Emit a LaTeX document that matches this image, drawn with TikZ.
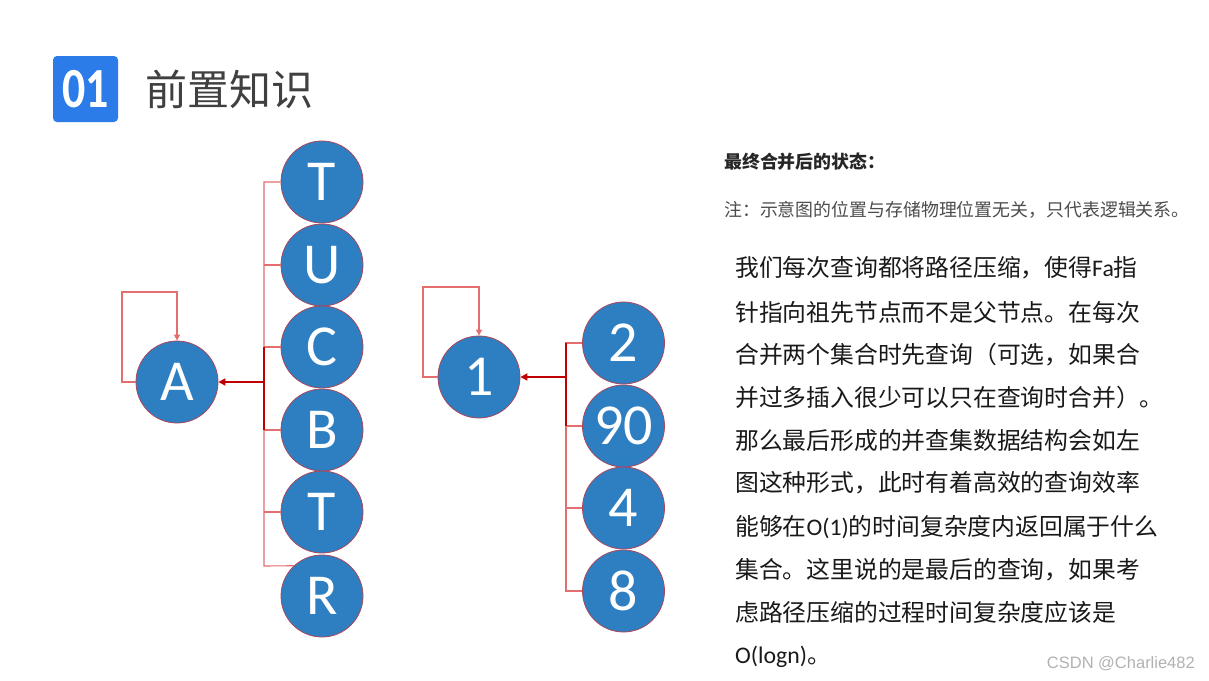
\documentclass[tikz,border=0pt]{standalone}
\usepackage{fontspec}
\usetikzlibrary{arrows.meta}
\newfontfamily\cjk{Noto Sans CJK SC}
\newfontfamily\lat{Carlito}
\newfontfamily\wm{Liberation Sans}
\definecolor{badgeblue}{RGB}{43,124,233}
\definecolor{nodeblue}{RGB}{46,126,194}
\definecolor{noderim}{RGB}{170,70,90}
\definecolor{lightred}{RGB}{228,110,110}
\definecolor{darkred}{RGB}{192,0,0}
\begin{document}
\begin{tikzpicture}[x=1pt,y=-1pt,
  vert/.style={circle, fill=nodeblue, draw=noderim, line width=0.8pt, minimum size=82pt, inner sep=0pt, text=white, font=\lat\fontsize{58}{58}\selectfont},
  branch/.style={draw=lightred, line width=1.1pt},
  mainarrow/.style={draw=darkred, line width=2pt, -{Triangle[length=7pt,width=7pt]}},
  loop/.style={draw=lightred, line width=1.1pt, -{Triangle[length=6pt,width=6pt]}},
  para/.style={anchor=west, inner sep=0pt, text=black!90, font=\cjk\fontsize{23.8}{23.8}\selectfont},
  note/.style={anchor=west, inner sep=0pt, font=\cjk\fontsize{17.9}{17.9}\selectfont}]
\path[use as bounding box, fill=white] (0,0) rectangle (1209,680);

% header
\node[fill=badgeblue, rounded corners=4pt, minimum width=65pt, minimum height=66pt, inner sep=0pt,
  text=white, font=\lat\bfseries\fontsize{54}{54}\selectfont] (badge) at (85.5,89) {\scalebox{0.85}[1.05]{01}};
\node[anchor=west, inner sep=0pt, text=black!75, font=\cjk\fontsize{42}{42}\selectfont] (title) at (145,89) {前置知识};

% left tree
\node[vert] (A) at (177,382) {A};
\node[vert] (t1) at (322,182) {T};
\node[vert] (u) at (322,265) {U};
\node[vert] (c) at (322,347) {C};
\node[vert] (b) at (322,430) {B};
\node[vert] (t2) at (322,512) {T};
\node[vert] (r) at (322,596) {R};
\coordinate (busA) at (264,382);
\coordinate (busAtop) at (264,182);
\coordinate (busAbot) at (264,566);
\draw[branch] (t1.west) -- (busAtop) -- (busAbot) -- (r.133);
\draw[branch] (u.west -| busA) -- (u.west);
\draw[branch] (c.west -| busA) -- (c.west);
\draw[branch] (b.west -| busA) -- (b.west);
\draw[branch] (t2.west -| busA) -- (t2.west);
\draw[draw=darkred, line width=1.6pt] (c.west -| busA) -- (b.west -| busA);
\draw[mainarrow] (busA) -- (A.east);
\coordinate (loopA1) at (122,382);
\coordinate (loopA2) at (122,292);
\coordinate (loopA3) at (177,292);
\draw[loop] (A.west) -- (loopA1) -- (loopA2) -- (loopA3) -- (A.north);

% right tree
\node[vert] (one) at (479,377) {1};
\node[vert] (n2) at (623.5,343) {2};
\node[vert] (n90) at (623.5,426) {90};
\node[vert] (n4) at (623.5,508) {4};
\node[vert] (n8) at (623.5,591) {8};
\coordinate (busB) at (566,377);
\draw[branch] (n2.west) -- (n2.west -| busB) -- (n8.west -| busB) -- (n8.west);
\draw[branch] (n90.west -| busB) -- (n90.west);
\draw[branch] (n4.west -| busB) -- (n4.west);
\draw[draw=darkred, line width=1.6pt] (n2.west -| busB) -- (n90.west -| busB);
\draw[mainarrow] (busB) -- (one.east);
\coordinate (loopB1) at (423,377);
\coordinate (loopB2) at (423,287);
\coordinate (loopB3) at (479,287);
\draw[loop] (one.west) -- (loopB1) -- (loopB2) -- (loopB3) -- (one.north);

% right text
\node[note, text=black!85] (h1) at (724,162) {\bfseries 最终合并后的状态：};
\node[note, text=black!70] (h2) at (724,210) {注：示意图的位置与存储物理位置无关，只代表逻辑关系。};

\node[para] (p1) at (735,268) {我们每次查询都将路径压缩，使得{\lat Fa}指};
\node[para] (p2) at (735,312) {针指向祖先节点而不是父节点。在每次};
\node[para] (p3) at (735,355) {合并两个集合时先查询（可选，如果合};
\node[para] (p4) at (735,397) {并过多插入很少可以只在查询时合并）。};
\node[para] (p5) at (735,440) {那么最后形成的并查集数据结构会如左};
\node[para] (p6) at (735,483) {图这种形式，此时有着高效的查询效率};
\node[para] (p7) at (735,527) {能够在{\lat O(1)}的时间复杂度内返回属于什么};
\node[para] (p8) at (735,570) {集合。这里说的是最后的查询，如果考};
\node[para] (p9) at (735,612) {虑路径压缩的过程时间复杂度应该是};
\node[para] (p10) at (735,657) {{\lat O(logn)}。};

\node[anchor=east, inner sep=0pt, text=black!30, font=\wm\fontsize{16.5}{16.5}\selectfont] (wmark) at (1195,664) {CSDN @Charlie482};
\end{tikzpicture}
\end{document}
